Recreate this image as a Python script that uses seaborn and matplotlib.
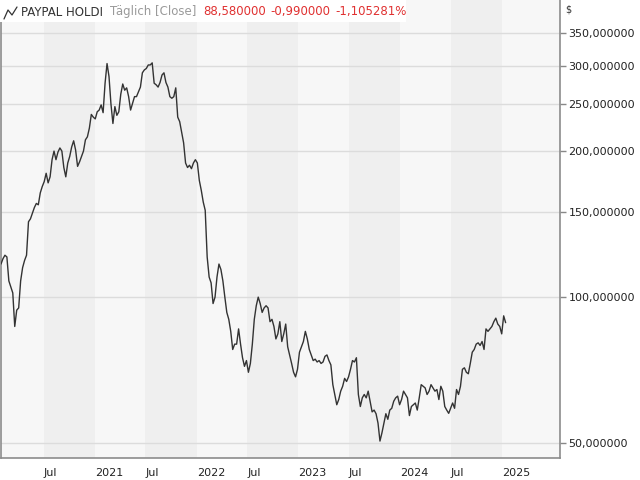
import matplotlib
matplotlib.use("Agg")
import matplotlib.pyplot as plt
from matplotlib.ticker import FixedLocator, FuncFormatter, NullLocator
from matplotlib.patches import Rectangle
from matplotlib.lines import Line2D
import pandas as pd
import seaborn as sns

# Weekly closes (USD)
close_2020 = [117, 120, 122, 121, 108, 105, 102, 87, 94, 95, 108, 115, 119, 122, 143, 145,
              149, 153, 156, 155, 164, 169, 173, 180, 172, 177, 192, 200, 192, 199, 203, 200,
              185, 177, 189, 195, 204, 210, 201, 186, 190, 195, 200, 211, 214, 223, 238, 235, 233]
close_2021 = [241, 243, 249, 240, 276, 303, 285, 250, 228, 247, 237, 241, 262, 275, 267, 270,
              259, 243, 251, 259, 259, 265, 271, 290, 294, 296, 301, 301, 304, 276, 274, 271,
              277, 287, 290, 277, 271, 259, 257, 259, 270, 235, 230, 219, 208, 189, 185, 187,
              184, 189, 192, 189]
close_2022 = [174, 166, 157, 151, 121, 110, 107, 97, 100, 110, 117, 114, 108, 100, 93, 90,
              85, 78, 80, 80, 86, 80, 75, 72, 74, 70, 73, 80, 90, 96, 100, 97,
              93, 95, 96, 95, 89, 90, 87, 82, 84, 89, 81, 84, 88, 79, 76, 73,
              70, 68.5, 71, 77]
close_2023 = [79, 81, 85, 82, 78, 76, 74, 74.5, 73.5, 74, 73, 73.5, 75.5, 76, 74, 72.5,
              66, 63, 60, 61.5, 64, 65.5, 68, 67, 68.5, 71, 74, 73.5, 75, 63, 59.5, 62,
              63, 62, 64, 61, 58, 58.5, 57.5, 55, 50.5, 52.5, 55, 57.5, 56, 58.5, 59, 61,
              62, 62.5, 60, 61.5]
close_2024 = [64, 63, 62, 57, 59.5, 60, 60.5, 58.5, 62, 66, 65.5, 65, 63, 64, 66, 65,
              64, 64.5, 61.5, 65.5, 64, 59.5, 58.5, 57.6, 59, 60.5, 59, 64.5, 63, 65.5, 71, 71.5,
              70, 69.5, 73, 77, 78, 80, 80.5, 79.5, 81, 78, 86, 85, 86, 87,
              89, 90.5, 88, 87, 84, 91.5, 88.58]
closes = close_2020 + close_2021 + close_2022 + close_2023 + close_2024
first_date, last_date = "2020-01-30", "2025-01-13"

y_ticks = [50, 100, 150, 200, 250, 300, 350]
x_tick_dates = ["2020-07-01", "2021-01-01", "2021-07-01", "2022-01-01", "2022-07-01",
                "2023-01-01", "2023-07-01", "2024-01-01", "2024-07-01", "2025-01-01"]
x_tick_labels = ["Jul", "2021", "Jul", "2022", "Jul", "2023", "Jul", "2024", "Jul", "2025"]
band_years = [2020, 2021, 2022, 2023, 2024]

df = pd.DataFrame({"date": pd.date_range(first_date, last_date, periods=len(closes)),
                   "close": closes})

sns.set_style("white")
plt.rcParams["font.family"] = ["DejaVu Sans"]

W, H = 640, 480
fig = plt.figure(figsize=(6.4, 4.8), dpi=100)
fig.patch.set_facecolor("white")
ax = fig.add_axes([1.0 / W, 1 - 458 / H, 559.0 / W, 458 / H])
ax.set_facecolor("#f7f7f7")

for y in band_years:
    ax.axvspan(pd.Timestamp(f"{y}-07-01"), pd.Timestamp(f"{y + 1}-01-01"),
               color="#efefef", lw=0, zorder=0)

sns.lineplot(data=df, x="date", y="close", ax=ax, color="#333333", lw=1.0, zorder=3)

ax.set_yscale("log")
ax.set_ylim(46.6, 409.7)
ax.set_xlim(pd.Timestamp("2020-01-30"), pd.Timestamp("2025-07-27"))
ax.yaxis.set_major_locator(FixedLocator(y_ticks))
ax.yaxis.set_minor_locator(NullLocator())
ax.yaxis.set_major_formatter(FuncFormatter(lambda v, p: f"{v:.6f}".replace(".", ",")))
ax.yaxis.tick_right()
ax.grid(axis="y", color="#dcdcdc", lw=1)
ax.grid(axis="x", visible=False)
ax.set_axisbelow(True)

ax.set_xticks([pd.Timestamp(d) for d in x_tick_dates])
ax.set_xticklabels(x_tick_labels, ha="left")
ax.xaxis.set_minor_locator(NullLocator())
ax.tick_params(axis="x", length=5, width=1, color="#888888", labelsize=8,
               labelcolor="#222222", pad=2)
ax.tick_params(axis="y", length=4, width=1, color="#888888", labelsize=8,
               labelcolor="#222222", pad=2, right=True, left=False)
ax.set_xlabel("")
ax.set_ylabel("")

ax.spines["top"].set_visible(False)
for s in ("left", "bottom", "right"):
    ax.spines[s].set_color("#8c8c8c")
    ax.spines[s].set_linewidth(1.2)

# header
fig.add_artist(Rectangle((0, 1 - 22 / H), 406 / W, 22 / H, transform=fig.transFigure,
                         facecolor="white", edgecolor="none", zorder=5))
fig.add_artist(Line2D([4 / W, 8 / W, 12 / W, 17 / W],
                      [1 - 19 / H, 1 - 10 / H, 1 - 15 / H, 1 - 7 / H],
                      color="#333333", lw=0.9, transform=fig.transFigure, zorder=6))
yc = 1 - 12 / H
fig.text(21 / W, yc, "PAYPAL HOLDI", color="#333333", fontsize=8.5, va="center", zorder=6)
fig.text(110 / W, yc, "Täglich [Close]", color="#9a9a9a", fontsize=8.5, va="center", zorder=6)
fig.text(203 / W, yc, "88,580000", color="#e03131", fontsize=8.5, va="center", zorder=6)
fig.text(270 / W, yc, "-0,990000", color="#e03131", fontsize=8.5, va="center", zorder=6)
fig.text(335 / W, yc, "-1,105281%", color="#e03131", fontsize=8.5, va="center", zorder=6)
fig.text(565 / W, 1 - 10 / H, "$", color="#333333", fontsize=7, va="center",
         parse_math=False)

fig.savefig("out.png", dpi=100)
